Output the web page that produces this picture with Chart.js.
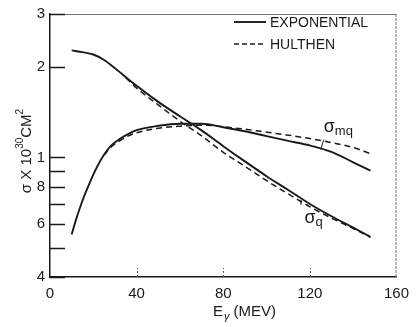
<!DOCTYPE html>
<html>
<head>
<meta charset="utf-8">
<script src="https://cdn.jsdelivr.net/npm/chart.js@4"></script>
<style>
  body { margin: 0; background: #fff; }
  canvas { display: block; }
</style>
</head>
<body>
<canvas id="chart" width="417" height="327"></canvas>
<script>
// photon energy (MeV) for each curve
const eQExp   = [10, 15, 20, 25, 30, 40, 50, 60, 70, 80, 90, 100, 110, 120, 130, 140, 148];
const eQHul   = [35, 40, 50, 60, 70, 80, 90, 100, 110, 120, 130, 140, 148];
const eMqExp  = [10, 12, 14, 16, 18, 20, 22, 25, 28, 32, 36, 40, 50, 60, 70, 80, 90, 100, 110, 120, 130, 140, 148];
const eMqHul  = [25, 28, 32, 36, 40, 50, 60, 70, 76, 80, 90, 100, 110, 120, 130, 140, 148];

// cross sections, units of 10^-30 cm^2
const sigmaQExp  = [2.27, 2.24, 2.20, 2.11, 1.98, 1.73, 1.53, 1.37, 1.23, 1.09, 0.97, 0.866, 0.779, 0.70, 0.637, 0.584, 0.544];
const sigmaQHul  = [1.84, 1.70, 1.495, 1.32, 1.18, 1.04, 0.934, 0.837, 0.756, 0.685, 0.628, 0.58, 0.542];
const sigmaMqExp = [0.554, 0.62, 0.685, 0.75, 0.812, 0.876, 0.938, 1.022, 1.09, 1.148, 1.195, 1.232, 1.274, 1.294, 1.294, 1.26, 1.222, 1.177, 1.135, 1.096, 1.043, 0.963, 0.903];
const sigmaMqHul = [1.018, 1.078, 1.133, 1.177, 1.208, 1.251, 1.27, 1.279, 1.274, 1.265, 1.241, 1.213, 1.186, 1.155, 1.12, 1.079, 1.029];

// axis ticks
const xTickValues = [0, 40, 80, 120, 160];
const yTickValues = [0.4, 0.5, 0.6, 0.7, 0.8, 0.9, 1, 2, 3];
const yTickLabels = ['4', '', '6', '', '8', '', '1', '2', '3'];

const seriesNames = ['EXPONENTIAL', 'HULTHEN'];

// curve labels: [text, subscript, energy, sigma]
const curveLabels = [
    ['σ', 'mq', 126.4, 1.218],
    ['σ', 'q', 117.5, 0.606]
];

const FONT = "'Liberation Sans', Arial, sans-serif";
const INK = '#1a1a1a';
const DASH = [6, 4];

const pts = (xs, ys) => xs.map((x, i) => ({ x: x, y: ys[i] }));

function curve(xs, ys, dashed) {
    return {
        data: pts(xs, ys),
        borderColor: INK,
        borderWidth: dashed ? 1.5 : 1.9,
        borderDash: dashed ? DASH : [],
        pointRadius: 0,
        fill: false,
        cubicInterpolationMode: 'monotone'
    };
}

// everything drawn by hand: inner ticks, frame, legend, titles, curve labels
const decorations = {
    id: 'decorations',
    afterDraw(chart) {
        const ctx = chart.ctx;
        const a = chart.chartArea;
        const xs = chart.scales.x;
        const ys = chart.scales.y;
        ctx.save();

        // frame top and right
        ctx.strokeStyle = '#777';
        ctx.lineWidth = 1;
        ctx.beginPath();
        ctx.moveTo(a.left, a.top + 0.5);
        ctx.lineTo(a.right, a.top + 0.5);
        ctx.stroke();
        ctx.setLineDash([3, 1]);
        ctx.beginPath();
        ctx.moveTo(a.right - 0.5, a.top);
        ctx.lineTo(a.right - 0.5, a.bottom);
        ctx.stroke();
        ctx.setLineDash([]);

        // y ticks pointing inwards
        ctx.strokeStyle = INK;
        ctx.lineWidth = 1.5;
        yTickValues.forEach(v => {
            const y = Math.round(ys.getPixelForValue(v)) + 0.5;
            ctx.beginPath();
            ctx.moveTo(a.left, y);
            ctx.lineTo(a.left + 15, y);
            ctx.stroke();
        });

        // x ticks pointing inwards
        ctx.strokeStyle = '#555';
        ctx.lineWidth = 1;
        ctx.setLineDash([2, 2]);
        xTickValues.slice(1, -1).forEach(v => {
            const x = Math.round(xs.getPixelForValue(v)) + 0.5;
            ctx.beginPath();
            ctx.moveTo(x, a.bottom);
            ctx.lineTo(x, a.bottom - 9);
            ctx.stroke();
        });
        ctx.setLineDash([]);

        // legend
        ctx.fillStyle = INK;
        ctx.strokeStyle = INK;
        ctx.font = '14px ' + FONT;
        ctx.textBaseline = 'middle';
        ctx.textAlign = 'left';
        seriesNames.forEach((name, i) => {
            const y = 22 + i * 22;
            ctx.lineWidth = i ? 1.5 : 1.9;
            ctx.setLineDash(i ? [5, 3] : []);
            ctx.beginPath();
            ctx.moveTo(234, y);
            ctx.lineTo(266, y);
            ctx.stroke();
            ctx.setLineDash([]);
            ctx.fillText(name, 270, y + 1);
        });

        // x axis title: E_gamma (MEV)
        ctx.textBaseline = 'alphabetic';
        ctx.font = '15px ' + FONT;
        let x = 213;
        ctx.fillText('E', x, 316);
        x += ctx.measureText('E').width + 1;
        ctx.font = 'italic 11px ' + FONT;
        ctx.fillText('γ', x, 320);
        x += ctx.measureText('γ').width + 4;
        ctx.font = '15px ' + FONT;
        ctx.fillText('(MEV)', x, 316);

        // y axis title, rotated
        ctx.save();
        ctx.translate(31, 151);
        ctx.rotate(-Math.PI / 2);
        const parts = [
            ['σ X 10', '15px', 0],
            ['30', '10px', -8],
            ['CM', '15px', 0],
            ['2', '10px', -8]
        ];
        let total = 0;
        parts.forEach(p => { ctx.font = p[1] + ' ' + FONT; total += ctx.measureText(p[0]).width; });
        let px = -total / 2;
        parts.forEach(p => {
            ctx.font = p[1] + ' ' + FONT;
            ctx.fillText(p[0], px, p[2]);
            px += ctx.measureText(p[0]).width;
        });
        ctx.restore();

        // curve labels
        curveLabels.forEach(l => {
            const lx = xs.getPixelForValue(l[2]);
            const ly = ys.getPixelForValue(l[3]);
            ctx.font = '18px ' + FONT;
            ctx.fillText(l[0], lx, ly);
            const w = ctx.measureText(l[0]).width;
            ctx.font = '13px ' + FONT;
            ctx.fillText(l[1], lx + w, ly + 3);
        });

        // small pointers near the curve labels
        ctx.lineWidth = 1;
        ctx.beginPath();
        ctx.moveTo(xs.getPixelForValue(126.4), ys.getPixelForValue(1.146));
        ctx.lineTo(xs.getPixelForValue(125), ys.getPixelForValue(1.062));
        ctx.stroke();
        ctx.beginPath();
        ctx.moveTo(xs.getPixelForValue(115.9), ys.getPixelForValue(0.722));
        ctx.lineTo(xs.getPixelForValue(115.9), ys.getPixelForValue(0.695));
        ctx.stroke();

        ctx.restore();
    }
};

new Chart(document.getElementById('chart'), {
    type: 'line',
    data: {
        datasets: [
            curve(eQExp, sigmaQExp, false),
            curve(eQHul, sigmaQHul, true),
            curve(eMqExp, sigmaMqExp, false),
            curve(eMqHul, sigmaMqHul, true)
        ]
    },
    options: {
        responsive: false,
        devicePixelRatio: 1,
        animation: false,
        layout: { padding: { left: 0, right: 17, top: 10, bottom: 0 } },
        plugins: {
            legend: { display: false },
            tooltip: { enabled: false }
        },
        scales: {
            x: {
                type: 'linear',
                min: 0,
                max: 160,
                afterBuildTicks: s => { s.ticks = xTickValues.map(v => ({ value: v })); },
                afterFit: s => { s.height = 50; },
                ticks: {
                    autoSkip: false,
                    maxRotation: 0,
                    padding: 8,
                    color: INK,
                    font: { family: FONT, size: 15 }
                },
                grid: { drawOnChartArea: false, drawTicks: false },
                border: { display: true, color: INK, width: 1.5 }
            },
            y: {
                type: 'logarithmic',
                min: 0.4,
                max: 3,
                afterBuildTicks: s => { s.ticks = yTickValues.map(v => ({ value: v })); },
                afterFit: s => { s.width = 50; },
                ticks: {
                    autoSkip: false,
                    padding: 5,
                    color: INK,
                    font: { family: FONT, size: 15 },
                    callback: v => yTickLabels[yTickValues.indexOf(v)]
                },
                grid: { drawOnChartArea: false, drawTicks: false },
                border: { display: true, color: INK, width: 1.5 }
            }
        }
    },
    plugins: [decorations]
});
</script>
</body>
</html>
